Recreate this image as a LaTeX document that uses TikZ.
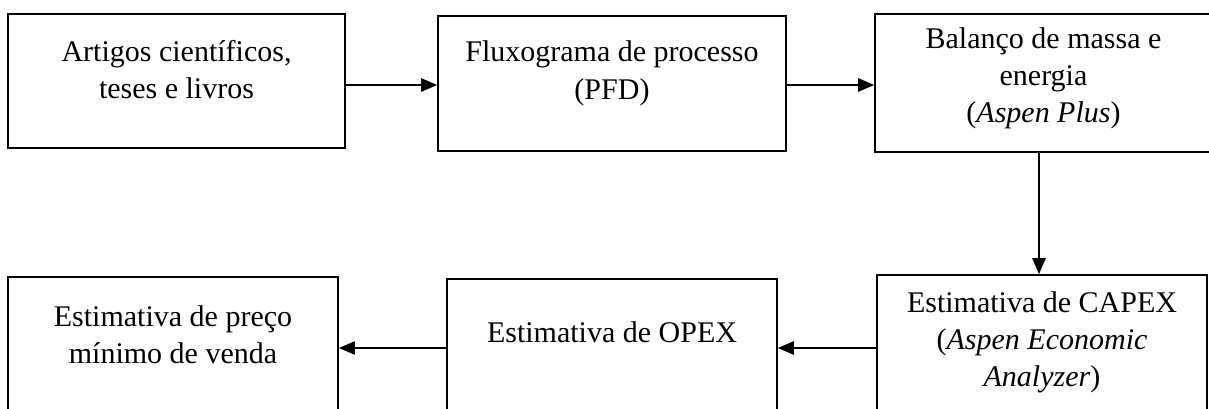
\documentclass[tikz,border=0pt]{standalone}
\usepackage{fontspec}
\setmainfont{Liberation Serif}
\usetikzlibrary{arrows.meta}
\tikzset{
  box/.style={draw, line width=1.3pt, inner sep=0pt},
  txt/.style={align=center, anchor=base, inner sep=0pt,
    font=\fontsize{22.5pt}{28pt}\selectfont},
  arr/.style={line width=1.3pt, -{Triangle[length=12pt,width=10pt]}}
}

\begin{document}
\begin{tikzpicture}[x=0.75pt,y=-0.75pt]
    \clip (0,0) rectangle (1209,409);

    % place boxes
    \node[box, minimum width=252.75pt, minimum height=100.5pt] at (176.5,81)  (art)     {};
    \node[box, minimum width=261pt,    minimum height=101.25pt] at (612,83.5) (pfd)     {};
    \node[box, minimum width=252.75pt, minimum height=103.5pt] at (1043.5,83) (balanco) {};

    \node[box, minimum width=247.5pt, minimum height=103.5pt] at (173,346)  (preco) {};
    \node[box, minimum width=247.5pt, minimum height=102pt]   at (612,347)  (opex)  {};
    \node[box, minimum width=247.5pt, minimum height=105pt]   at (1042,345) (capex) {};

    % texts (base = last line)
    \node[txt] at ([yshift=-64pt]art.north)       (artT)     {Artigos científicos,\\teses e livros};
    \node[txt] at ([yshift=-63pt]pfd.north)       (pfdT)     {Fluxograma de processo\\(PFD)};
    \node[txt] at ([yshift=-82.25pt]balanco.north) (balancoT) {Balanço de massa e\\energia\\(\textit{Aspen Plus})};
    \node[txt] at ([yshift=-65.5pt]preco.north)   (precoT)   {Estimativa de preço\\mínimo de venda};
    \node[txt] at ([yshift=-48pt]opex.north)      (opexT)    {Estimativa de OPEX};
    \node[txt] at ([yshift=-84.5pt]capex.north)   (capexT)   {Estimativa de CAPEX\\(\textit{Aspen Economic}\\\textit{Analyzer})};

    % draw edges
    \coordinate (row1) at (0,85);
    \coordinate (row2) at (0,348);
    \coordinate (col)  at (1039,0);
    \draw[arr] (art.east |- row1) -- (pfd.west |- row1);
    \draw[arr] (pfd.east |- row1) -- (balanco.west |- row1);
    \draw[arr] (balanco.south -| col) -- (capex.north -| col);
    \draw[arr] (capex.west |- row2) -- (opex.east |- row2);
    \draw[arr] (opex.west |- row2) -- (preco.east |- row2);
\end{tikzpicture}
\end{document}
